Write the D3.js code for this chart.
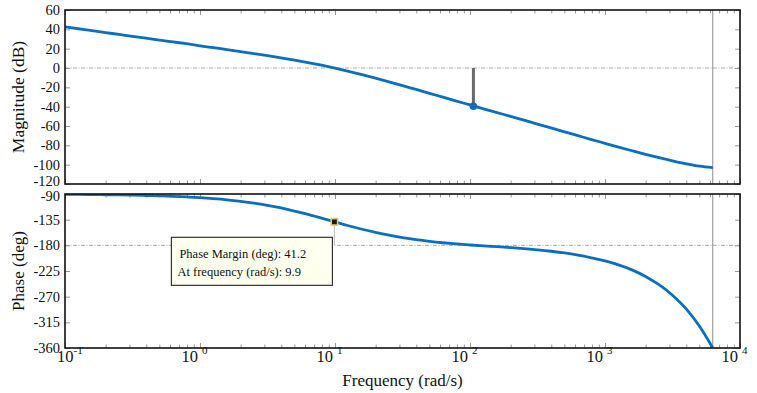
<!DOCTYPE html>
<html>
<head>
<meta charset="utf-8">
<script src="https://cdn.jsdelivr.net/npm/d3@7"></script>
<style>
  html, body { margin: 0; padding: 0; background: #fff; }
  svg { display: block; font-family: "Liberation Serif", "Times New Roman", serif; }
</style>
</head>
<body>
<svg id="chart" width="757" height="393"></svg>
<script>
// ---- data ----
const freqs = [0.1, 0.1259, 0.1585, 0.1995, 0.2512, 0.3162, 0.3981, 0.5012, 0.631, 0.7943,
  1, 1.259, 1.585, 1.995, 2.512, 3.162, 3.981, 5.012, 6.31, 7.943,
  10, 12.59, 15.85, 19.95, 25.12, 31.62, 39.81, 50.12, 63.1, 79.43,
  100, 125.9, 158.5, 199.5, 251.2, 316.2, 398.1, 501.2, 631, 794.3,
  1000, 1259, 1585, 1995, 2512, 3162, 3981, 5012, 6283];
const magnitudeDb = [42.5, 40.6, 38.6, 36.7, 34.7, 32.8, 30.9, 28.9, 27.0, 25.1,
  23.0, 21.0, 19.0, 16.9, 14.9, 12.75, 10.5, 8.1, 5.6, 2.85,
  -0.15, -3.4, -6.85, -10.5, -14.3, -18.2, -22.2, -26.2, -30.2, -34.2,
  -38.2, -42.2, -46.1, -50.0, -54.0, -58.0, -62.0, -66.0, -70.0, -74.0,
  -77.9, -81.8, -85.6, -89.3, -92.8, -96.1, -99.1, -101.6, -103.0];
const phaseDeg = [-90.7, -90.8, -91.0, -91.3, -91.6, -92.1, -92.6, -93.3, -94.1, -95.2,
  -96.5, -98.2, -100.3, -102.9, -106.0, -109.9, -114.5, -119.9, -125.9, -132.4,
  -139.0, -145.7, -151.8, -157.3, -162.2, -166.4, -170.0, -173.0, -175.5, -177.6,
  -179.4, -181.0, -182.4, -184.0, -185.8, -187.9, -190.4, -193.4, -197.2, -201.8,
  -207.4, -214.2, -223.0, -234.5, -249.0, -267.5, -291.0, -322.0, -360.0];

const magTicks = [60, 40, 20, 0, -20, -40, -60, -80, -100, -120];
const phaseTicks = [-90, -135, -180, -225, -270, -315, -360];
const freqDecades = [-1, 0, 1, 2, 3, 4];

const nyquistFreq = 6283;
const gainMarginFreq = 106;
const gainMarginMag = -39.6;
const phaseMarginFreq = 9.9;
const phaseMarginPhase = -138.8;
const phaseMarginText = ["Phase Margin (deg): 41.2", "At frequency (rad/s): 9.9"];

// ---- layout ----
const svg = d3.select("#chart");
const L = 65, R = 740;
const magTop = 10, magBot = 184;
const phTop = 194, phBot = 348;

const x = d3.scaleLog().domain([0.1, 1e4]).range([L, R]);
const yMag = d3.scaleLinear().domain([-120, 60]).range([magBot, magTop]);
const yPh = d3.scaleLinear().domain([-360, -90]).range([phBot, phTop]);

const majors = freqDecades.map(k => Math.pow(10, k));
const minors = [];
for (let k = -1; k < 4; k++) for (let m = 2; m <= 9; m++) minors.push(m * Math.pow(10, k));

const blue = "#0a6fc2";

function panel(y, top, bot, ticks, refVal) {
  const g = svg.append("g");
  const id = "clip" + top;
  svg.append("clipPath").attr("id", id).append("rect")
    .attr("x", L).attr("y", top).attr("width", R - L).attr("height", bot - top);

  g.append("line").attr("x1", L).attr("x2", R).attr("y1", y(refVal)).attr("y2", y(refVal))
    .attr("stroke", "#a8a8a8").attr("stroke-width", 1).attr("stroke-dasharray", "4,1.5,1,1.5");

  g.append("line").attr("x1", x(nyquistFreq)).attr("x2", x(nyquistFreq))
    .attr("y1", top).attr("y2", bot).attr("stroke", "#8c8c8c").attr("stroke-width", 1);

  const la = g.append("g").attr("transform", `translate(${L},0)`)
    .call(d3.axisLeft(y).tickValues(ticks).tickSize(-5).tickSizeOuter(0).tickPadding(5).tickFormat(d => String(d)));
  la.select(".domain").remove();
  la.selectAll("line").attr("stroke", "#999");
  la.selectAll("text").attr("font-size", 14.5).attr("fill", "#111")
    .attr("font-family", "Liberation Serif, serif");
  const ra = g.append("g").attr("transform", `translate(${R},0)`)
    .call(d3.axisRight(y).tickValues(ticks).tickSize(-5).tickSizeOuter(0).tickFormat(""));
  ra.select(".domain").remove();
  ra.selectAll("line").attr("stroke", "#999");
  [[bot, d3.axisBottom], [top, d3.axisTop]].forEach(([yy, ax]) => {
    const a1 = g.append("g").attr("transform", `translate(0,${yy})`)
      .call(ax(x).tickValues(majors).tickSize(-5).tickSizeOuter(0).tickFormat(""));
    a1.select(".domain").remove();
    a1.selectAll("line").attr("stroke", "#999");
    const a2 = g.append("g").attr("transform", `translate(0,${yy})`)
      .call(ax(x).tickValues(minors).tickSize(-3.5).tickSizeOuter(0).tickFormat(""));
    a2.select(".domain").remove();
    a2.selectAll("line").attr("stroke", "#999");
  });
  return { g, id, la };
}

// ---- magnitude panel ----
const mp = panel(yMag, magTop, magBot, magTicks, 0);
// nudge the lowest label up slightly, as in the reference where it touches the phase label
mp.la.selectAll(".tick text").filter(d => d === -120).attr("dy", "0.1em");
const magData = freqs.map((f, i) => [f, magnitudeDb[i]]);
mp.g.append("path").datum(magData)
  .attr("clip-path", `url(#${mp.id})`)
  .attr("fill", "none").attr("stroke", blue).attr("stroke-width", 2.8)
  .attr("d", d3.line().x(d => x(d[0])).y(d => yMag(d[1])).curve(d3.curveMonotoneX));
mp.g.append("line").attr("x1", x(gainMarginFreq)).attr("x2", x(gainMarginFreq))
  .attr("y1", yMag(0)).attr("y2", yMag(gainMarginMag))
  .attr("stroke", "#6a6a6a").attr("stroke-width", 3);
mp.g.append("circle").attr("cx", x(gainMarginFreq)).attr("cy", yMag(gainMarginMag))
  .attr("r", 3.8).attr("fill", blue);
mp.g.append("rect").attr("x", L).attr("y", magTop).attr("width", R - L).attr("height", magBot - magTop)
  .attr("fill", "none").attr("stroke", "#111").attr("stroke-width", 1.6);

// ---- phase panel ----
const pp = panel(yPh, phTop, phBot, phaseTicks, -180);
pp.la.selectAll(".tick text").filter(d => d === -90).attr("dy", "0.42em");
const phData = freqs.map((f, i) => [f, phaseDeg[i]]);
pp.g.append("path").datum(phData)
  .attr("clip-path", `url(#${pp.id})`)
  .attr("fill", "none").attr("stroke", blue).attr("stroke-width", 2.8)
  .attr("d", d3.line().x(d => x(d[0])).y(d => yPh(d[1])).curve(d3.curveMonotoneX));
pp.g.append("line").attr("x1", x(phaseMarginFreq)).attr("x2", x(phaseMarginFreq))
  .attr("y1", yPh(phaseMarginPhase)).attr("y2", yPh(-180))
  .attr("stroke", "#c8c8b8").attr("stroke-width", 1.2);
pp.g.append("rect").attr("x", L).attr("y", phTop).attr("width", R - L).attr("height", phBot - phTop)
  .attr("fill", "none").attr("stroke", "#111").attr("stroke-width", 1.6);
pp.g.append("rect").attr("x", x(phaseMarginFreq) - 3.2).attr("y", yPh(phaseMarginPhase) - 3.2)
  .attr("width", 6.4).attr("height", 6.4)
  .attr("fill", "#1a1a1a").attr("stroke", "#d6c97a").attr("stroke-width", 1.6);

// tooltip
const tipX = x(phaseMarginFreq) - 163, tipY = yPh(-180) - 8;
const tip = svg.append("g").attr("transform", `translate(${tipX},${tipY})`);
tip.append("rect").attr("width", 161).attr("height", 48)
  .attr("fill", "#fffff0").attr("stroke", "#333").attr("stroke-width", 1.2);
tip.selectAll("text").data(phaseMarginText).join("text")
  .attr("x", (d, i) => i === 0 ? 8 : 6)
  .attr("y", (d, i) => 21 + i * 18)
  .attr("font-size", 12.5).attr("fill", "#111")
  .text(d => d);

// ---- x tick labels ----
const xl = svg.append("g");
freqDecades.forEach(k => {
  const xx = x(Math.pow(10, k));
  const t = xl.append("text").attr("y", 362).attr("font-size", 16.5).attr("fill", "#111");
  if (k < 0) {
    t.attr("x", xx - 8).attr("text-anchor", "start");
    t.append("tspan").text("10");
    t.append("tspan").attr("font-size", 11).attr("dy", -8).text(String(k));
  } else {
    t.attr("x", xx - 2).attr("text-anchor", "end").text("10");
    xl.append("text").attr("x", xx + 2).attr("y", 354).attr("font-size", 11).attr("fill", "#111").text(String(k));
  }
});

// ---- axis labels ----
svg.append("text").attr("x", (L + R) / 2).attr("y", 386).attr("text-anchor", "middle")
  .attr("font-size", 17).attr("fill", "#111").text("Frequency (rad/s)");
svg.append("text").attr("transform", `translate(24,${(magTop + magBot) / 2}) rotate(-90)`)
  .attr("text-anchor", "middle").attr("font-size", 17.5).attr("fill", "#111").text("Magnitude (dB)");
svg.append("text").attr("transform", `translate(24,${(phTop + phBot) / 2}) rotate(-90)`)
  .attr("text-anchor", "middle").attr("font-size", 17).attr("fill", "#111").text("Phase (deg)");
</script>
</body>
</html>
